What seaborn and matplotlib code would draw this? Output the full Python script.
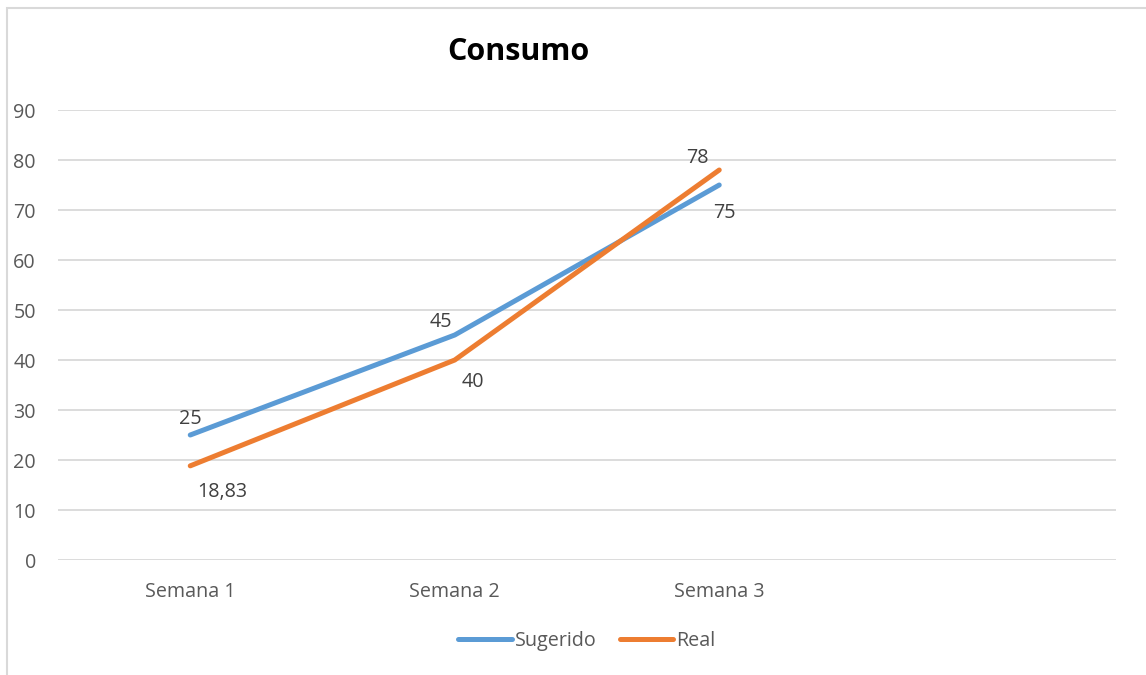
import matplotlib
matplotlib.use("Agg")
import matplotlib.pyplot as plt
import seaborn as sns
import pandas as pd
from matplotlib.patches import Rectangle
from matplotlib.lines import Line2D

categories = ["Semana 1", "Semana 2", "Semana 3"]
sugerido = [25, 45, 75]
real = [18.83, 40, 78]
series_names = ["Sugerido", "Real"]
label_text_sugerido = ["25", "45", "75"]
label_text_real = ["18,83", "40", "78"]

sns.set_theme(style="white")
plt.rcParams['font.family'] = ['Open Sans', 'DejaVu Sans']

df = pd.DataFrame({
    "Semana": categories * 2,
    "x": list(range(len(categories))) * 2,
    "Valor": sugerido + real,
    "Serie": [series_names[0]] * 3 + [series_names[1]] * 3,
})

FS = 14.2
fig = plt.figure(figsize=(11.46, 6.75), dpi=100)
# chart border (cropped)
fig.patches.append(Rectangle((7/1146, -0.1), 1.2, 1 - 8/675 + 0.1, transform=fig.transFigure,
                             fill=False, edgecolor="#d9d9d9", linewidth=1.5))
ax = fig.add_axes([58/1146, 1 - 560/675, (1116-58)/1146, (560-110)/675])

colors = {"Sugerido": "#5B9BD5", "Real": "#ED7D31"}
sns.lineplot(data=df, x="x", y="Valor", hue="Serie", palette=colors, ax=ax,
             linewidth=3.6, legend=False, solid_capstyle="round")

ax.set_xlim(-0.5, 3.5)
ax.set_ylim(0, 90)
ax.set_yticks(range(0, 91, 10))
ax.set_xticks(range(len(categories)))
ax.set_xticklabels(categories)
ax.set_xlabel("")
ax.set_ylabel("")
ax.grid(axis="y", color="#d9d9d9", linewidth=1.3)
ax.grid(axis="x", visible=False)
for s in ax.spines.values():
    s.set_visible(False)
ax.tick_params(axis="both", length=0, labelsize=FS, colors="#595959")
ax.tick_params(axis="x", pad=16)
ax.tick_params(axis="y", pad=16)

# data labels
s_offsets = [(0, 16), (-14, 13), (5, -28)]
r_offsets = [(32, -26), (18, -22), (-22, 12)]
for i in range(3):
    dx, dy = s_offsets[i]
    ax.annotate(label_text_sugerido[i], (i, sugerido[i]), xytext=(dx, dy), textcoords="offset pixels",
                ha="center", va="center", fontsize=FS, color="#404040")
    dx, dy = r_offsets[i]
    ax.annotate(label_text_real[i], (i, real[i]), xytext=(dx, dy), textcoords="offset pixels",
                ha="center", va="center", fontsize=FS, color="#404040")

fig.text(518/1146, 1 - 52/675, "Consumo", ha="center", va="center", fontsize=22,
         fontweight="bold", color="black")

handles = [Line2D([0], [0], color=colors[n], linewidth=3.6, solid_capstyle="round") for n in series_names]
leg = fig.legend(handles, series_names, loc="center", bbox_to_anchor=(587/1146, 1 - 641/675),
                 ncol=2, frameon=False, fontsize=FS, handlelength=2.7, handletextpad=0.15,
                 columnspacing=1.2)
for t in leg.get_texts():
    t.set_color("#595959")

fig.savefig("out.png", dpi=100)
